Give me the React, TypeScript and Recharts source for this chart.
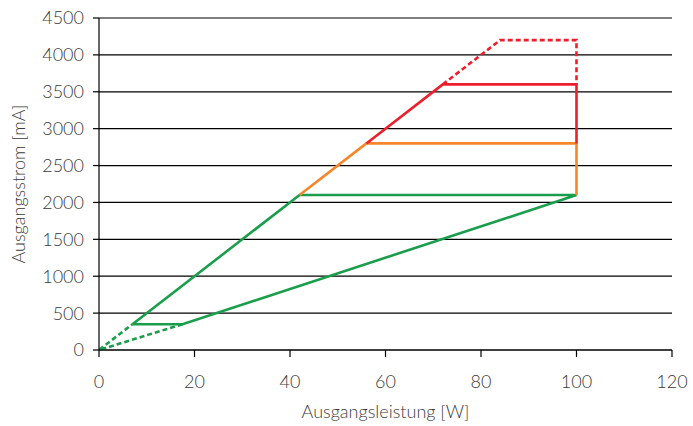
import React from 'react';
import { LineChart, Line, XAxis, YAxis, CartesianGrid } from 'recharts';

// segment points: [Ausgangsleistung W, Ausgangsstrom mA]
const greenSolid = [
  [7, 350],
  [42, 2100],
  [100, 2100],
  [17.5, 350],
  [7, 350],
];
const greenDashed = [
  [17.5, 350],
  [0, 0],
  [7, 350],
];
const orangeSolid = [
  [42, 2100],
  [56, 2800],
  [100, 2800],
  [100, 2100],
];
const redSolid = [
  [56, 2800],
  [72, 3600],
  [100, 3600],
  [100, 2800],
];
const redDashed = [
  [72, 3600],
  [84, 4200],
  [100, 4200],
  [100, 3600],
];

const xTicks = [0, 20, 40, 60, 80, 100, 120];
const yTicks = [0, 500, 1000, 1500, 2000, 2500, 3000, 3500, 4000, 4500];

const toRows = (pts: number[][]) => pts.map(([x, y]) => ({ x, y }));

const GREEN = '#1a9e4b';
const ORANGE = '#f6862a';
const RED = '#ee1f2d';
const FONT = "Lato, 'Noto Sans', sans-serif";
const tickStyle = { fill: '#3a3a3a', fontSize: 18, fontFamily: FONT, fontWeight: 300 };

const YLabel = (props: any) => {
  const vb = props.viewBox || {};
  const cy = (vb.y ?? 18) + (vb.height ?? 332) / 2;
  return (
    <text
      x={0}
      y={0}
      transform={`translate(25, ${cy}) rotate(-90)`}
      textAnchor="middle"
      style={tickStyle}
    >
      Ausgangsstrom [mA]
    </text>
  );
};

export default function App() {
  const series = [
    { key: 'gs', data: greenSolid, color: GREEN, dash: undefined },
    { key: 'gd', data: greenDashed, color: GREEN, dash: '5 3' },
    { key: 'os', data: orangeSolid, color: ORANGE, dash: undefined },
    { key: 'rs', data: redSolid, color: RED, dash: undefined },
    { key: 'rd', data: redDashed, color: RED, dash: '5 3' },
  ];

  return (
    <div style={{ position: 'absolute', left: 0, top: 0, background: '#fff' }}>
      <LineChart width={693} height={426} margin={{ top: 18, right: 21, bottom: 0, left: 0 }}>
        <CartesianGrid vertical={false} stroke="#000" strokeWidth={1.2} />
        <XAxis
          type="number"
          dataKey="x"
          domain={[0, 120]}
          ticks={xTicks}
          allowDataOverflow
          height={76}
          stroke="#000"
          strokeWidth={1.2}
          tickSize={7}
          tick={tickStyle}
          tickMargin={18}
          label={{ value: 'Ausgangsleistung [W]', position: 'insideBottom', offset: 8, style: tickStyle }}
        />
        <YAxis
          type="number"
          dataKey="y"
          domain={[0, 4500]}
          ticks={yTicks}
          width={99}
          stroke="#000"
          strokeWidth={1.2}
          tickSize={6}
          tick={tickStyle}
          tickMargin={9}
          label={{ content: <YLabel /> }}
        />
        {series.map((s) => (
          <Line
            key={s.key}
            data={toRows(s.data)}
            dataKey="y"
            type="linear"
            stroke={s.color}
            strokeWidth={2.6}
            strokeDasharray={s.dash}
            dot={false}
            activeDot={false}
            isAnimationActive={false}
          />
        ))}
      </LineChart>
    </div>
  );
}
